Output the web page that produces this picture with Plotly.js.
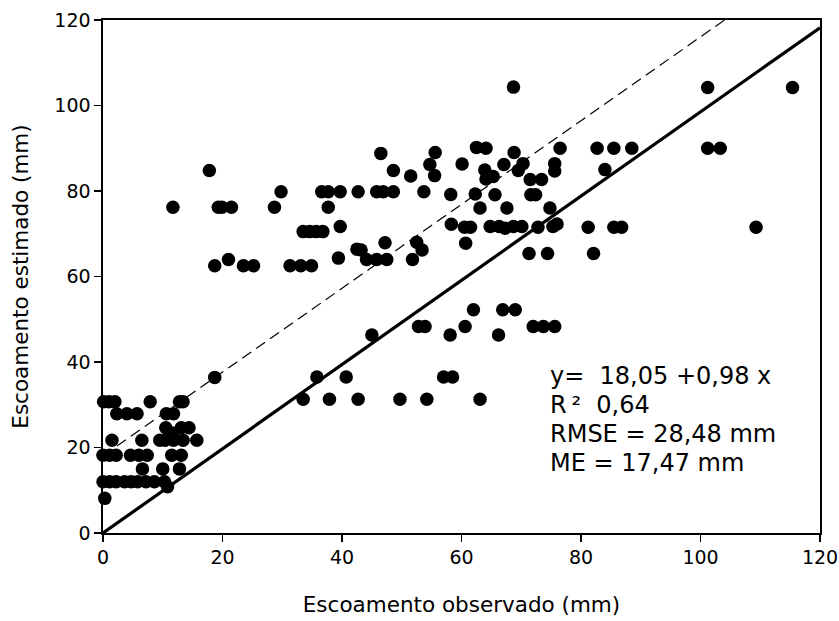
<!DOCTYPE html>
<html>
<head>
<meta charset="utf-8">
<script src="https://cdn.plot.ly/plotly-3.0.1.min.js"></script>
<style>
  html, body { margin: 0; padding: 0; background: #fff; }
  #chart { width: 839px; height: 621px; }
</style>
</head>
<body>
<div id="chart"></div>
<script>
// Observed vs. estimated runoff (mm), one entry per event
const observado = [
  0.1, 1.0, 2.0, 7.9, 12.8, 13.4,
  2.3, 4.0, 5.7, 10.6, 11.8,
  10.5, 11.7, 13.1, 14.4,
  1.5, 6.5, 9.5, 10.4, 11.8, 13.4, 15.7,
  0.0, 1.1, 2.2, 4.6, 6.0, 7.4, 11.5, 13.1,
  6.6, 10.0, 12.8,
  0.0, 1.1, 2.2, 3.6, 4.7, 5.8, 7.2, 8.6, 10.3,
  10.8, 0.3,
  33.5, 37.9, 42.7, 49.7, 54.2, 63.1,
  18.7, 35.8, 40.7, 57.0, 58.5,
  45.0, 58.1, 66.2,
  52.8, 53.9, 60.6, 72.0, 73.7, 75.6,
  62.0, 66.9, 69.0,
  18.7, 23.5, 25.2, 31.3, 33.1, 34.9,
  21.0, 39.4, 44.1, 45.8, 47.5, 51.8,
  42.5, 43.2, 47.2, 52.5, 53.4, 60.7, 71.3, 74.4, 82.1,
  33.5, 34.6, 35.7, 36.8,
  39.7, 58.3, 60.5, 61.5, 64.8, 66.3, 67.3, 68.7, 70.1, 72.8, 75.3, 76.0, 81.2, 85.5, 86.8, 109.3,
  11.7, 19.3, 19.9, 21.5, 28.7, 37.7, 63.1, 67.6, 74.8,
  29.8, 36.6, 37.7, 39.7, 42.7, 45.8, 46.9, 48.6, 53.7, 58.2, 62.3, 65.6, 71.6, 72.4,
  17.8, 48.6, 51.5, 54.7, 55.5, 60.1, 63.9, 64.1, 65.3, 67.1, 70.3, 69.5, 71.5, 73.4, 75.6, 75.6, 84.0,
  46.5, 55.6, 62.5, 64.1, 68.8, 76.5, 82.7, 85.5, 88.5, 101.2, 103.3,
  68.7, 101.2, 115.4
];
const estimado = [
  30.7, 30.7, 30.7, 30.7, 30.7, 30.7,
  27.9, 27.9, 27.9, 27.9, 27.9,
  24.6, 23.4, 24.6, 24.6,
  21.7, 21.7, 21.7, 21.7, 21.7, 21.7, 21.7,
  18.2, 18.2, 18.2, 18.2, 18.2, 18.2, 18.2, 18.2,
  15.0, 15.0, 15.0,
  12.0, 12.0, 12.0, 12.0, 12.0, 12.0, 12.0, 12.0, 12.0,
  10.8, 8.1,
  31.3, 31.3, 31.3, 31.3, 31.3, 31.3,
  36.4, 36.5, 36.5, 36.5, 36.5,
  46.3, 46.3, 46.3,
  48.3, 48.3, 48.3, 48.3, 48.3, 48.3,
  52.2, 52.2, 52.2,
  62.5, 62.5, 62.5, 62.5, 62.5, 62.5,
  64.0, 64.3, 64.0, 64.0, 64.0, 64.0,
  66.4, 66.2, 67.9, 68.0, 66.2, 67.8, 65.4, 65.4, 65.4,
  70.5, 70.5, 70.5, 70.5,
  71.7, 72.2, 71.5, 71.5, 71.7, 71.7, 71.3, 71.7, 71.7, 71.5, 71.7, 72.3, 71.5, 71.5, 71.5, 71.5,
  76.2, 76.2, 76.2, 76.2, 76.2, 76.2, 76.0, 76.0, 76.0,
  79.8, 79.8, 79.8, 79.8, 79.8, 79.8, 79.8, 79.8, 79.8, 79.2, 79.3, 79.1, 79.1, 79.1,
  84.8, 84.8, 83.5, 86.2, 83.6, 86.3, 84.9, 82.8, 83.4, 86.2, 86.4, 84.8, 82.7, 82.7, 86.4, 84.7, 85.0,
  88.8, 89.0, 90.2, 90.0, 89.0, 90.0, 90.0, 90.0, 90.0, 90.0, 90.0,
  104.3, 104.2, 104.2
];

// Fitted regression (dashed) and reference line through the origin (solid)
const interceptoAjuste = 18.05;
const inclinacaoAjuste = 0.98;
const inclinacaoReferencia = 0.985;
const eixoMin = 0, eixoMax = 120;

const linhaX = [eixoMin, eixoMax];
const ajusteY = linhaX.map(v => interceptoAjuste + inclinacaoAjuste * v);
const referenciaY = linhaX.map(v => inclinacaoReferencia * v);

// Statistics printed on the chart
const textoEstatisticas = [
  'y=\u00a0\u00a018,05 +0,98 x',
  'R\u2009\u00b2\u00a0\u00a00,64',
  'RMSE = 28,48 mm',
  'ME = 17,47 mm'
];
const posicaoTextoY = [36.8, 30.0, 23.2, 16.4];

const fonte = 'DejaVu Sans, Arial, sans-serif';

const traces = [
  {
    x: linhaX, y: referenciaY, type: 'scatter', mode: 'lines',
    line: { color: '#000', width: 3.2 }, hoverinfo: 'skip'
  },
  {
    x: linhaX, y: ajusteY, type: 'scatter', mode: 'lines',
    line: { color: '#000', width: 1.2, dash: '11px,6px' }, hoverinfo: 'skip'
  },
  {
    x: observado, y: estimado, type: 'scatter', mode: 'markers',
    marker: { color: '#000', size: 13.5, symbol: 'circle', line: { width: 0 } },
    cliponaxis: false
  }
];

const eixoBase = {
  range: [eixoMin, eixoMax],
  tick0: 0, dtick: 20,
  ticks: 'outside', ticklen: 7, tickwidth: 1.3, tickcolor: '#000',
  showline: true, linecolor: '#000', linewidth: 1.6, mirror: true,
  showgrid: false, zeroline: false,
  tickfont: { family: fonte, size: 19, color: '#000' }
};

const layout = {
  width: 839, height: 621,
  margin: { l: 103, r: 19, t: 20, b: 88, pad: 0 },
  paper_bgcolor: '#fff', plot_bgcolor: '#fff',
  showlegend: false,
  font: { family: fonte, color: '#000' },
  xaxis: Object.assign({}, eixoBase, {
    title: { text: 'Escoamento observado (mm)', font: { family: fonte, size: 21.5, color: '#000' }, standoff: 29 }
  }),
  yaxis: Object.assign({}, eixoBase, {
    title: { text: 'Escoamento estimado (mm)', font: { family: fonte, size: 21.5, color: '#000' }, standoff: 20 }
  }),
  annotations: textoEstatisticas.map((t, i) => ({
    text: t, xref: 'x', yref: 'y', x: 74.5, y: posicaoTextoY[i],
    xanchor: 'left', yanchor: 'middle', showarrow: false,
    font: { family: fonte, size: 24, color: '#000' }
  }))
};

Plotly.newPlot('chart', traces, layout, { displayModeBar: false, staticPlot: true });
</script>
</body>
</html>
